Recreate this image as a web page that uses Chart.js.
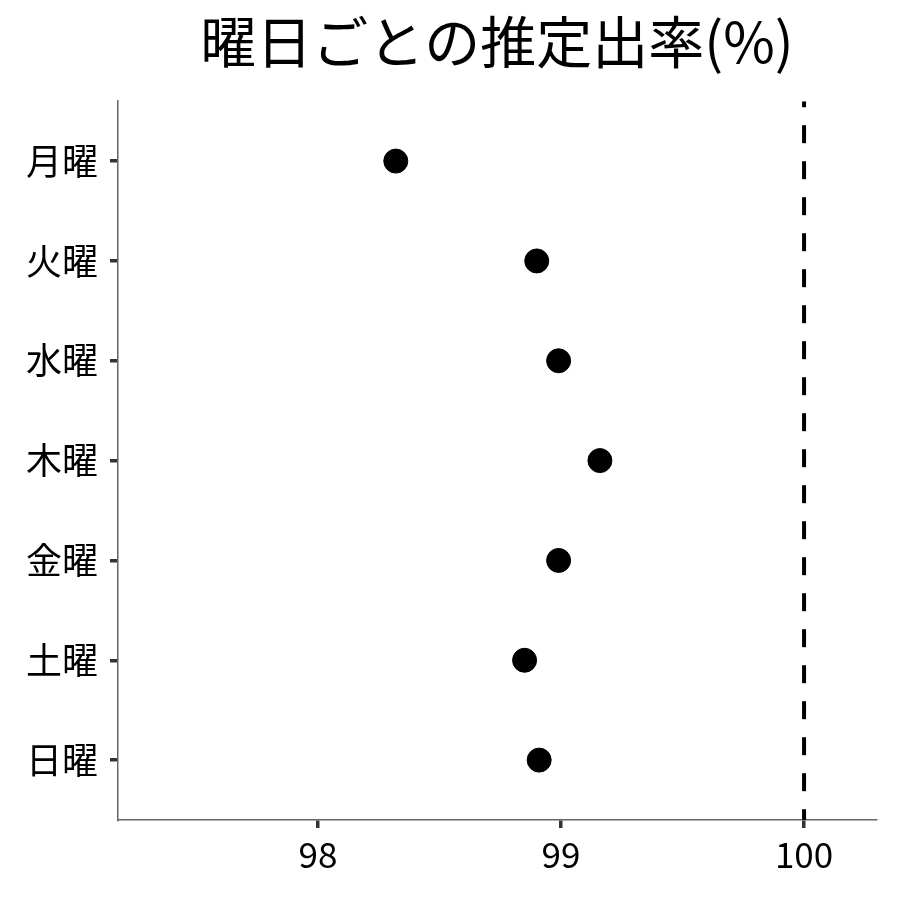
<!DOCTYPE html>
<html>
<head>
<meta charset="utf-8">
<script src="https://cdn.jsdelivr.net/npm/chart.js@4"></script>
<style>
  html, body { margin: 0; padding: 0; background: #fff; }
  #wrap { width: 900px; height: 900px; }
</style>
</head>
<body>
<div id="wrap"><canvas id="chart" width="900" height="900"></canvas></div>
<script>
// days from top to bottom
const days = ['月曜', '火曜', '水曜', '木曜', '金曜', '土曜', '日曜'];
// estimated rate (%) per day
const rates = [98.32, 98.90, 98.99, 99.16, 98.99, 98.85, 98.91];
const xTicks = [98, 99, 100];
const refLine = 100;

const FONT = '"Noto Sans CJK JP", "Noto Sans", sans-serif';

const points = days.map((d, i) => ({ x: rates[i], y: i + 1 }));

const ctx = document.getElementById('chart').getContext('2d');
new Chart(ctx, {
  type: 'scatter',
  data: {
    datasets: [
      {
        label: 'ref',
        type: 'line',
        data: [{ x: refLine, y: 0.4 }, { x: refLine, y: 7.6 }],
        borderColor: '#000',
        borderWidth: 4,
        borderDash: [18, 18],
        borderDashOffset: 12,
        pointRadius: 0,
        fill: false
      },
      {
        label: 'rate',
        data: points,
        backgroundColor: '#000',
        borderColor: '#000',
        pointRadius: 12,
        pointHoverRadius: 12
      }
    ]
  },
  options: {
    responsive: false,
    animation: false,
    layout: { padding: { left: 0, right: 24, top: 0, bottom: 0 } },
    plugins: {
      legend: { display: false },
      tooltip: { enabled: false },
      title: {
        display: true,
        fullSize: false,
        text: '曜日ごとの推定出率(%)',
        color: '#000',
        font: { family: FONT, size: 56, weight: 'normal', lineHeight: 1.2 },
        padding: { top: 8, bottom: 26 }
      }
    },
    scales: {
      x: {
        type: 'linear',
        min: 97.177,
        max: 100.296,
        afterBuildTicks: (s) => { s.ticks = xTicks.map(v => ({ value: v })); },
        afterFit: (s) => { s.height = 80; },
        border: { display: true, color: '#666', width: 1.5 },
        grid: { display: true, drawOnChartArea: false, drawTicks: true, tickLength: 8, color: '#333', lineWidth: 3.5 },
        ticks: { color: '#000', padding: 6, font: { family: FONT, size: 35 } }
      },
      y: {
        type: 'linear',
        reverse: true,
        min: 0.4,
        max: 7.6,
        afterBuildTicks: (s) => { s.ticks = days.map((d, i) => ({ value: i + 1 })); },
        afterFit: (s) => { s.width = 118; },
        border: { display: true, color: '#666', width: 1.5 },
        grid: { display: true, drawOnChartArea: false, drawTicks: true, tickLength: 8, color: '#333', lineWidth: 3.5 },
        ticks: {
          color: '#000',
          padding: 12,
          font: { family: FONT, size: 36 },
          callback: (v) => days[Math.round(v) - 1] || ''
        }
      }
    }
  }
});
</script>
</body>
</html>
